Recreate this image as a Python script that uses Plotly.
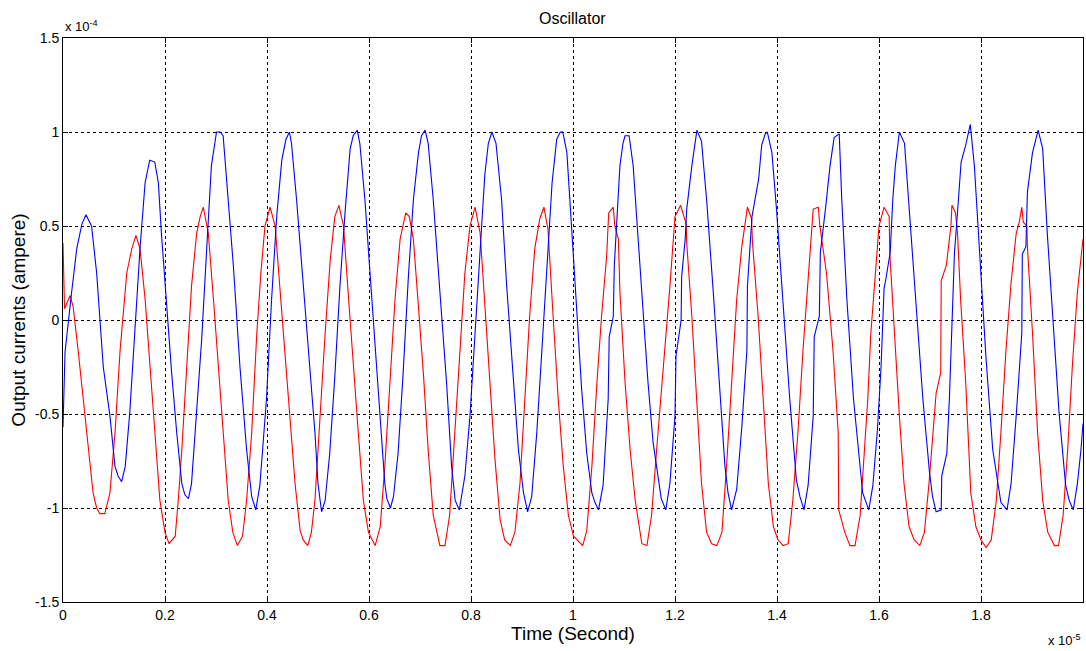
import plotly.graph_objects as go

# Time in units of 1e-5 s, currents in units of 1e-4 A
blue_t = [0.000, 0.004, 0.017, 0.027, 0.037, 0.045, 0.056, 0.066, 0.079, 0.092, 0.102, 0.108, 0.115, 0.122,
          0.131, 0.141, 0.151, 0.161, 0.170, 0.180, 0.187, 0.193, 0.203, 0.213, 0.223, 0.233, 0.239, 0.246,
          0.252, 0.262, 0.272, 0.282, 0.291, 0.301, 0.308, 0.314, 0.321, 0.334, 0.347, 0.360, 0.370, 0.378,
          0.386, 0.399, 0.409, 0.419, 0.429, 0.437, 0.444, 0.448, 0.458, 0.471, 0.484, 0.494, 0.500, 0.507,
          0.514, 0.523, 0.533, 0.543, 0.553, 0.563, 0.569, 0.577, 0.582, 0.592, 0.602, 0.612, 0.621, 0.631,
          0.635, 0.642, 0.648, 0.657, 0.667, 0.677, 0.687, 0.697, 0.703, 0.710, 0.716, 0.726, 0.739, 0.752,
          0.762, 0.769, 0.777, 0.788, 0.798, 0.808, 0.818, 0.827, 0.834, 0.841, 0.849, 0.860, 0.870, 0.883,
          0.893, 0.903, 0.911, 0.919, 0.929, 0.939, 0.949, 0.959, 0.968, 0.975, 0.980, 0.988, 0.998, 1.008,
          1.017, 1.027, 1.037, 1.043, 1.050, 1.059, 1.069, 1.071, 1.079, 1.081, 1.089, 1.092, 1.098, 1.102,
          1.110, 1.118, 1.127, 1.137, 1.147, 1.157, 1.167, 1.173, 1.182, 1.190, 1.200, 1.202, 1.212, 1.213,
          1.220, 1.223, 1.233, 1.243, 1.252, 1.262, 1.275, 1.288, 1.298, 1.304, 1.311, 1.321, 1.331, 1.341,
          1.342, 1.351, 1.364, 1.370, 1.377, 1.381, 1.390, 1.399, 1.412, 1.425, 1.438, 1.445, 1.453, 1.461,
          1.471, 1.473, 1.483, 1.485, 1.495, 1.504, 1.512, 1.522, 1.527, 1.537, 1.550, 1.563, 1.568, 1.580,
          1.588, 1.597, 1.604, 1.610, 1.613, 1.622, 1.627, 1.632, 1.640, 1.650, 1.659, 1.673, 1.686, 1.699,
          1.705, 1.712, 1.722, 1.723, 1.733, 1.738, 1.743, 1.748, 1.752, 1.761, 1.770, 1.779, 1.787, 1.797,
          1.810, 1.823, 1.833, 1.839, 1.851, 1.859, 1.869, 1.880, 1.881, 1.888, 1.891, 1.901, 1.912, 1.921,
          1.930, 1.940, 1.953, 1.966, 1.973, 1.981, 1.989, 1.996, 2.000]
blue_i = [-0.57, -0.17, 0.15, 0.38, 0.51, 0.56, 0.50, 0.25, -0.25, -0.51, -0.78, -0.83, -0.86, -0.78,
          -0.49, -0.07, 0.38, 0.73, 0.85, 0.84, 0.73, 0.46, 0.07, -0.28, -0.60, -0.87, -0.93, -0.95,
          -0.87, -0.51, -0.10, 0.39, 0.82, 1.00, 1.00, 0.98, 0.73, 0.29, -0.25, -0.69, -0.94, -1.01,
          -0.88, -0.42, 0.11, 0.55, 0.85, 0.96, 1.00, 0.94, 0.64, 0.18, -0.25, -0.60, -0.87, -1.02,
          -0.96, -0.71, -0.30, 0.18, 0.57, 0.91, 0.98, 1.01, 0.94, 0.64, 0.25, -0.14, -0.51, -0.87,
          -0.95, -1.00, -0.94, -0.71, -0.28, 0.22, 0.64, 0.89, 0.98, 1.01, 0.94, 0.64, 0.15, -0.33,
          -0.78, -0.96, -1.01, -0.83, -0.51, -0.07, 0.38, 0.77, 0.94, 1.00, 0.94, 0.64, 0.18, -0.33,
          -0.69, -0.92, -1.02, -0.94, -0.60, -0.16, 0.32, 0.73, 0.96, 1.00, 1.00, 0.89, 0.46, 0.04,
          -0.37, -0.71, -0.92, -0.97, -1.01, -0.88, -0.42, -0.09, 0.02, 0.29, 0.64, 0.82, 0.94, 0.98,
          0.98, 0.82, 0.46, 0.04, -0.33, -0.65, -0.85, -0.95, -1.01, -0.87, -0.51, -0.19, 0.00, 0.23,
          0.43, 0.59, 0.82, 1.01, 0.95, 0.64, 0.15, -0.37, -0.78, -0.92, -1.01, -0.90, -0.57, -0.16,
          0.18, 0.55, 0.75, 0.93, 0.99, 1.00, 0.89, 0.59, 0.07, -0.42, -0.85, -0.94, -1.01, -0.88,
          -0.51, -0.09, 0.02, 0.36, 0.59, 0.82, 0.97, 0.99, 0.64, 0.11, -0.42, -0.80, -0.92, -1.01,
          -0.88, -0.58, -0.25, 0.17, 0.21, 0.36, 0.64, 0.82, 1.00, 0.94, 0.59, 0.07, -0.42, -0.81,
          -0.94, -1.02, -1.01, -0.83, -0.71, -0.42, 0.00, 0.36, 0.50, 0.84, 0.93, 1.04, 0.82, 0.38,
          -0.21, -0.69, -0.88, -0.97, -1.01, -0.87, -0.51, -0.07, 0.35, 0.39, 0.68, 0.89, 1.01, 0.91,
          0.46, 0.02, -0.49, -0.88, -0.96, -1.01, -0.87, -0.69, -0.55]

red_t = [0.000, 0.003, 0.014, 0.020, 0.030, 0.040, 0.050, 0.059, 0.066, 0.072, 0.082, 0.092, 0.102, 0.112,
         0.125, 0.135, 0.143, 0.151, 0.161, 0.171, 0.180, 0.190, 0.200, 0.208, 0.220, 0.226, 0.233, 0.242,
         0.252, 0.262, 0.269, 0.275, 0.285, 0.295, 0.305, 0.314, 0.324, 0.333, 0.342, 0.352, 0.360, 0.370,
         0.380, 0.388, 0.396, 0.406, 0.416, 0.425, 0.435, 0.445, 0.455, 0.465, 0.471, 0.480, 0.487, 0.494,
         0.504, 0.514, 0.524, 0.533, 0.541, 0.550, 0.559, 0.569, 0.579, 0.589, 0.599, 0.612, 0.622, 0.631,
         0.641, 0.651, 0.661, 0.672, 0.679, 0.687, 0.697, 0.707, 0.716, 0.726, 0.739, 0.749, 0.758, 0.768,
         0.778, 0.788, 0.798, 0.808, 0.818, 0.827, 0.837, 0.847, 0.857, 0.866, 0.877, 0.886, 0.896, 0.906,
         0.915, 0.925, 0.935, 0.943, 0.951, 0.961, 0.971, 0.981, 0.991, 1.001, 1.019, 1.027, 1.037, 1.047,
         1.056, 1.066, 1.070, 1.079, 1.082, 1.089, 1.092, 1.102, 1.112, 1.122, 1.135, 1.145, 1.154, 1.164,
         1.175, 1.190, 1.200, 1.211, 1.222, 1.223, 1.233, 1.243, 1.252, 1.262, 1.272, 1.282, 1.292, 1.301,
         1.311, 1.321, 1.331, 1.342, 1.350, 1.352, 1.363, 1.373, 1.383, 1.393, 1.402, 1.412, 1.422, 1.431,
         1.441, 1.451, 1.461, 1.471, 1.481, 1.484, 1.497, 1.510, 1.520, 1.521, 1.533, 1.543, 1.553, 1.563,
         1.571, 1.578, 1.584, 1.594, 1.600, 1.610, 1.620, 1.621, 1.630, 1.640, 1.649, 1.659, 1.669, 1.680,
         1.689, 1.698, 1.712, 1.721, 1.722, 1.732, 1.741, 1.743, 1.750, 1.754, 1.760, 1.770, 1.780, 1.790,
         1.800, 1.810, 1.820, 1.830, 1.839, 1.849, 1.859, 1.869, 1.875, 1.880, 1.883, 1.890, 1.891, 1.901,
         1.911, 1.921, 1.931, 1.944, 1.952, 1.961, 1.970, 1.979, 1.989, 2.000]
red_i = [0.41, 0.06, 0.13, 0.07, -0.17, -0.42, -0.69, -0.92, -1.00, -1.03, -1.03, -0.92, -0.60, -0.16,
         0.25, 0.38, 0.45, 0.38, 0.11, -0.25, -0.60, -0.96, -1.13, -1.19, -1.15, -0.96, -0.69, -0.25,
         0.18, 0.46, 0.55, 0.60, 0.46, 0.11, -0.25, -0.60, -0.96, -1.13, -1.20, -1.15, -0.96, -0.60,
         -0.07, 0.25, 0.50, 0.60, 0.50, 0.18, -0.17, -0.51, -0.87, -1.12, -1.17, -1.20, -1.13, -0.96,
         -0.51, -0.07, 0.32, 0.55, 0.61, 0.50, 0.15, -0.25, -0.60, -0.96, -1.13, -1.20, -1.10, -0.78,
         -0.33, 0.11, 0.43, 0.57, 0.55, 0.43, 0.07, -0.30, -0.69, -1.04, -1.20, -1.20, -1.04, -0.60,
         -0.22, 0.25, 0.50, 0.60, 0.46, 0.07, -0.33, -0.74, -1.06, -1.17, -1.20, -1.13, -0.87, -0.42,
         0.02, 0.38, 0.54, 0.60, 0.48, 0.02, -0.42, -0.78, -1.04, -1.15, -1.20, -1.12, -0.78, -0.33,
         0.02, 0.34, 0.57, 0.60, 0.50, 0.43, 0.15, -0.33, -0.69, -0.96, -1.19, -1.20, -1.04, -0.69,
         -0.33, 0.18, 0.55, 0.61, 0.51, 0.41, 0.02, -0.42, -0.87, -1.13, -1.19, -1.20, -1.13, -0.78,
         -0.33, 0.11, 0.39, 0.60, 0.54, 0.41, 0.02, -0.42, -0.87, -1.10, -1.17, -1.20, -1.19, -0.96,
         -0.60, -0.16, 0.20, 0.59, 0.60, 0.50, 0.25, -0.17, -0.60, -1.01, -1.13, -1.20, -1.20, -1.04,
         -0.71, -0.42, -0.07, 0.32, 0.50, 0.60, 0.55, 0.36, -0.07, -0.51, -0.87, -1.10, -1.17, -1.20,
         -1.13, -0.87, -0.39, -0.28, 0.21, 0.29, 0.50, 0.61, 0.57, 0.46, 0.11, -0.33, -0.92, -1.10,
         -1.17, -1.21, -1.17, -0.96, -0.60, -0.16, 0.20, 0.46, 0.52, 0.60, 0.52, 0.50, 0.39, -0.07,
         -0.60, -0.96, -1.13, -1.20, -1.20, -1.04, -0.69, -0.25, 0.15, 0.43]

x_ticks = [0, 0.2, 0.4, 0.6, 0.8, 1.0, 1.2, 1.4, 1.6, 1.8, 2.0]
x_labels = ["0", "0.2", "0.4", "0.6", "0.8", "1", "1.2", "1.4", "1.6", "1.8", "2"]
y_ticks = [-1.5, -1.0, -0.5, 0, 0.5, 1.0, 1.5]
y_labels = ["-1.5", "-1", "-0.5", "0", "0.5", "1", "1.5"]

FONT = "Liberation Sans, Arial, sans-serif"

fig = go.Figure()
fig.add_trace(go.Scatter(x=red_t, y=red_i, mode="lines",
                         line=dict(color="#ff0000", width=1.1), showlegend=False))
fig.add_trace(go.Scatter(x=blue_t, y=blue_i, mode="lines",
                         line=dict(color="#0000ff", width=1.1), showlegend=False))

axis_common = dict(
    showgrid=True, gridcolor="#000000", gridwidth=1, griddash="3px,3px",
    showline=True, linecolor="#000000", linewidth=1, mirror="ticks",
    ticks="inside", ticklen=5, tickcolor="#000000", tickwidth=1,
    zeroline=False, tickfont=dict(family=FONT, size=14, color="#000000"),
)

fig.update_xaxes(range=[0, 2], tickvals=x_ticks, ticktext=x_labels,
                 title=dict(text="Time (Second)", font=dict(family=FONT, size=19, color="#000000"),
                            standoff=3),
                 **axis_common)
fig.update_yaxes(range=[-1.5, 1.5], tickvals=y_ticks, ticktext=y_labels,
                 title=dict(text="Output currents (ampere)", font=dict(family=FONT, size=19, color="#000000"),
                            standoff=4),
                 **axis_common)

fig.update_layout(
    width=1086, height=651,
    margin=dict(l=63, r=3, t=38, b=49),
    paper_bgcolor="#ffffff", plot_bgcolor="#ffffff",
    title=dict(text="Oscillator", x=0.527, xanchor="center", y=0.972, yanchor="middle",
               font=dict(family=FONT, size=16, color="#000000")),
    annotations=[
        dict(text="x 10<sup>-4</sup>", xref="paper", yref="paper", x=0, y=1.0,
             xanchor="left", yanchor="bottom", yshift=2, showarrow=False,
             font=dict(family=FONT, size=13, color="#000000")),
        dict(text="x 10<sup>-5</sup>", xref="paper", yref="paper", x=1.0, y=0,
             xanchor="right", yanchor="top", yshift=-28, showarrow=False,
             font=dict(family=FONT, size=13, color="#000000")),
    ],
)

fig.write_html("out.html")
